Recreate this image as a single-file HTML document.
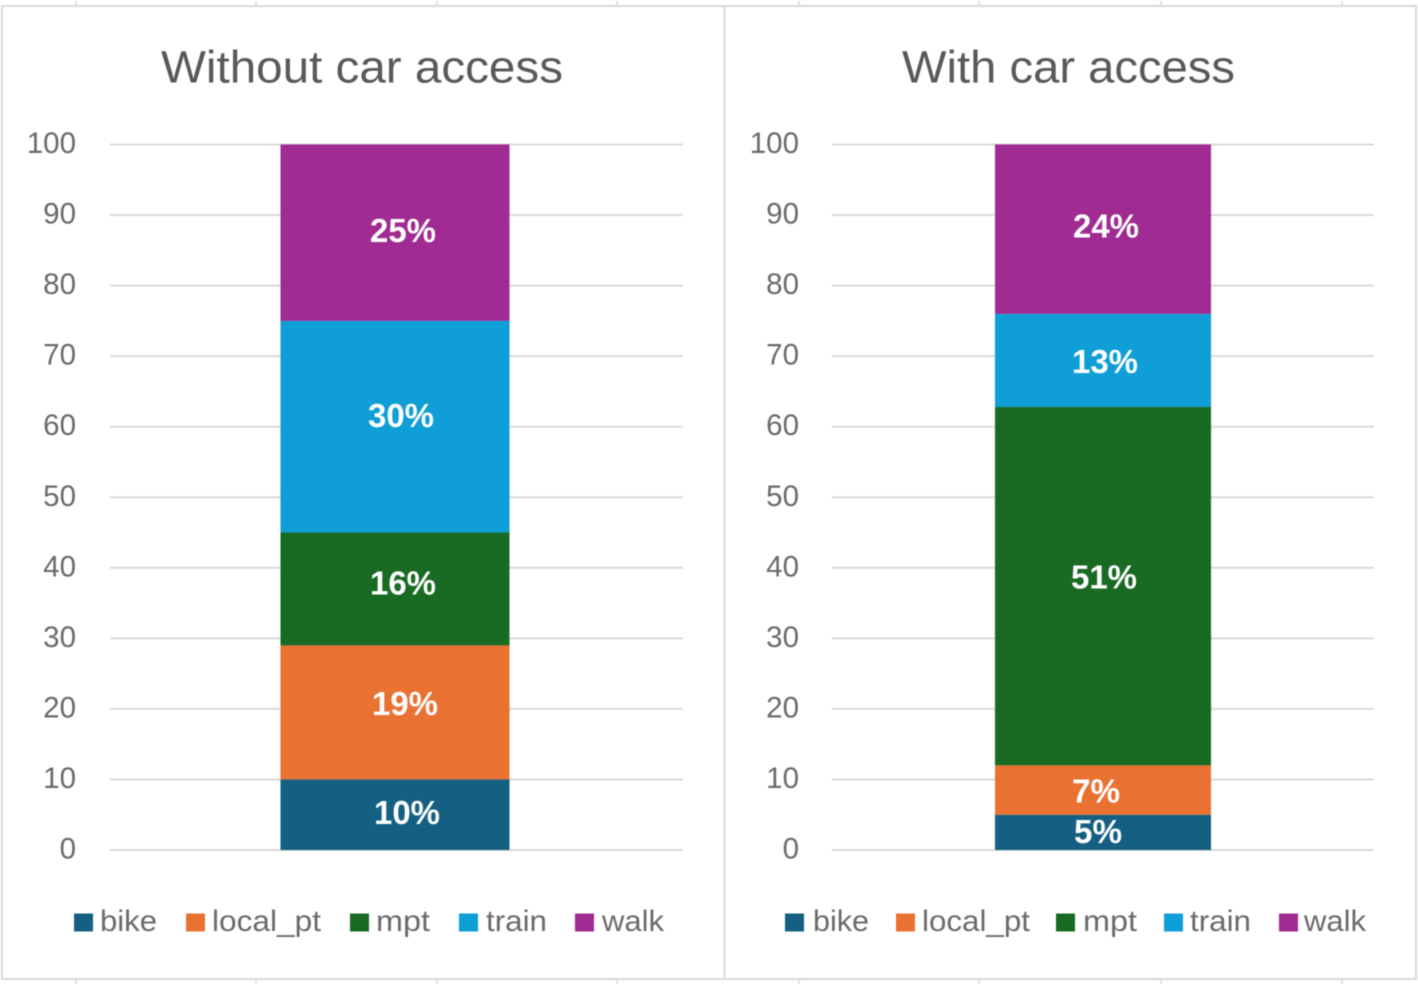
<!DOCTYPE html>
<html lang="en">
<head>
<meta charset="utf-8">
<title>Mode share without and with car access</title>
<style>
html,body{margin:0;padding:0;background:#fff;width:1418px;height:984px;overflow:hidden}
svg{display:block;filter:blur(0.55px)}
text{font-family:"Liberation Sans",sans-serif}
</style>
</head>
<body>
<svg id="chart" xmlns="http://www.w3.org/2000/svg" width="1418" height="984" viewBox="0 0 1418 984">
  <rect x="0" y="0" width="1418" height="984" fill="#ffffff"/>
  <g stroke="#d9d9d9" stroke-width="2" fill="none">
    <rect x="2" y="6" width="1414" height="973"/>
    <line x1="724.5" y1="6" x2="724.5" y2="979"/>
    <path stroke-width="1.5" d="M76 1V6M256 1V6M437 1V6M617 1V6M799 1V6M979 1V6M1161 1V6M1342 1V6M76 979V984M256 979V984M437 979V984M617 979V984M799 979V984M979 979V984M1161 979V984M1342 979V984"/>
  </g>
</svg>
<script>
const categories = ["bike", "local_pt", "mpt", "train", "walk"];
const withoutCarValues = [10, 19, 16, 30, 25];
const withCarValues = [5, 7, 50.8, 13.2, 24];
const yTickLabels = [0, 10, 20, 30, 40, 50, 60, 70, 80, 90, 100];

const seriesColors = ["#156082", "#E97132", "#196B24", "#0F9ED5", "#A02B93"];
const svgNS = "http://www.w3.org/2000/svg";
const chart = document.getElementById("chart");

const Y_ZERO = 850;
const Y_HUNDRED = 144.5;
function yScale(v) {
  return Y_ZERO + (Y_HUNDRED - Y_ZERO) * v / 100;
}

function make(tag, parent, attrs, content) {
  const el = document.createElementNS(svgNS, tag);
  for (const k in attrs) el.setAttribute(k, attrs[k]);
  if (content !== undefined) el.textContent = content;
  parent.appendChild(el);
  return el;
}

const panels = [
  {
    key: "without-car",
    title: "Without car access",
    values: withoutCarValues,
    titleX: 161, titleW: 402,
    tickRight: 76,
    gridL: 110, gridR: 683,
    barL: 280.5, barR: 509.5,
    labelDx: [12, 10, 8, 6, 8],
    labelDy: [-2, -9, -6, -11, -2],
    legendSwatch: [74, 186, 350, 459, 575],
    legendText: [[100, 57], [212, 109], [376, 54], [486, 61], [602, 62]]
  },
  {
    key: "with-car",
    title: "With car access",
    values: withCarValues,
    titleX: 902, titleW: 333,
    tickRight: 799,
    gridL: 832, gridR: 1374,
    barL: 995, barR: 1211,
    labelDx: [-5, -7, 1, 2, 3],
    labelDy: [-1, 1, -9, 1, -3],
    legendSwatch: [785, 896, 1056, 1164, 1279],
    legendText: [[813, 56], [922, 108], [1083, 54], [1190, 61], [1304, 62]]
  }
];

panels.forEach(function (p) {
  const g = make("g", chart, {});
  
  

  const title = make("text", g, {
    x: p.titleX, y: 82.5, "font-size": 45, fill: "#595959",
    textLength: p.titleW, lengthAdjust: "spacingAndGlyphs"
  }, p.title);
  
  

  yTickLabels.forEach(function (t) {
    const y = yScale(t);
    const line = make("line", g, {
      x1: p.gridL, x2: p.gridR, y1: y, y2: y,
      stroke: "#d9d9d9", "stroke-width": 2
    });
    
    

    const label = make("text", g, {
      x: p.tickRight, y: y + 8.5, "font-size": 29.5, fill: "#6a6a6a",
      "text-anchor": "end"
    }, String(t));
    
    
  });

  let cumulative = 0;
  p.values.forEach(function (v, i) {
    const yTop = yScale(cumulative + v);
    const yBottom = yScale(cumulative);
    const bar = make("rect", g, {
      x: p.barL, y: yTop, width: p.barR - p.barL, height: yBottom - yTop,
      fill: seriesColors[i]
    });
    
    
    cumulative += v;
  });

  cumulative = 0;
  p.values.forEach(function (v, i) {
    const yMid = yScale(cumulative + v / 2);
    const printed = String(Math.round(v));
    const label = make("text", g, {
      x: (p.barL + p.barR) / 2 + p.labelDx[i],
      y: yMid + p.labelDy[i] + 11.5,
      "font-size": 33, "font-weight": "bold", fill: "#ffffff",
      "text-anchor": "middle", textLength: 66, lengthAdjust: "spacingAndGlyphs"
    }, printed + "%");
    if (printed.length === 1) label.setAttribute("textLength", "48");
    
    
    cumulative += v;
  });

  categories.forEach(function (c, i) {
    const swatch = make("rect", g, {
      x: p.legendSwatch[i], y: 913.5, width: 19, height: 18, fill: seriesColors[i]
    });
    
    

    const text = make("text", g, {
      x: p.legendText[i][0], y: 931, "font-size": 29.5, fill: "#6a6a6a",
      textLength: p.legendText[i][1], lengthAdjust: "spacingAndGlyphs"
    }, c);
    
    
  });
});
</script>
</body>
</html>
